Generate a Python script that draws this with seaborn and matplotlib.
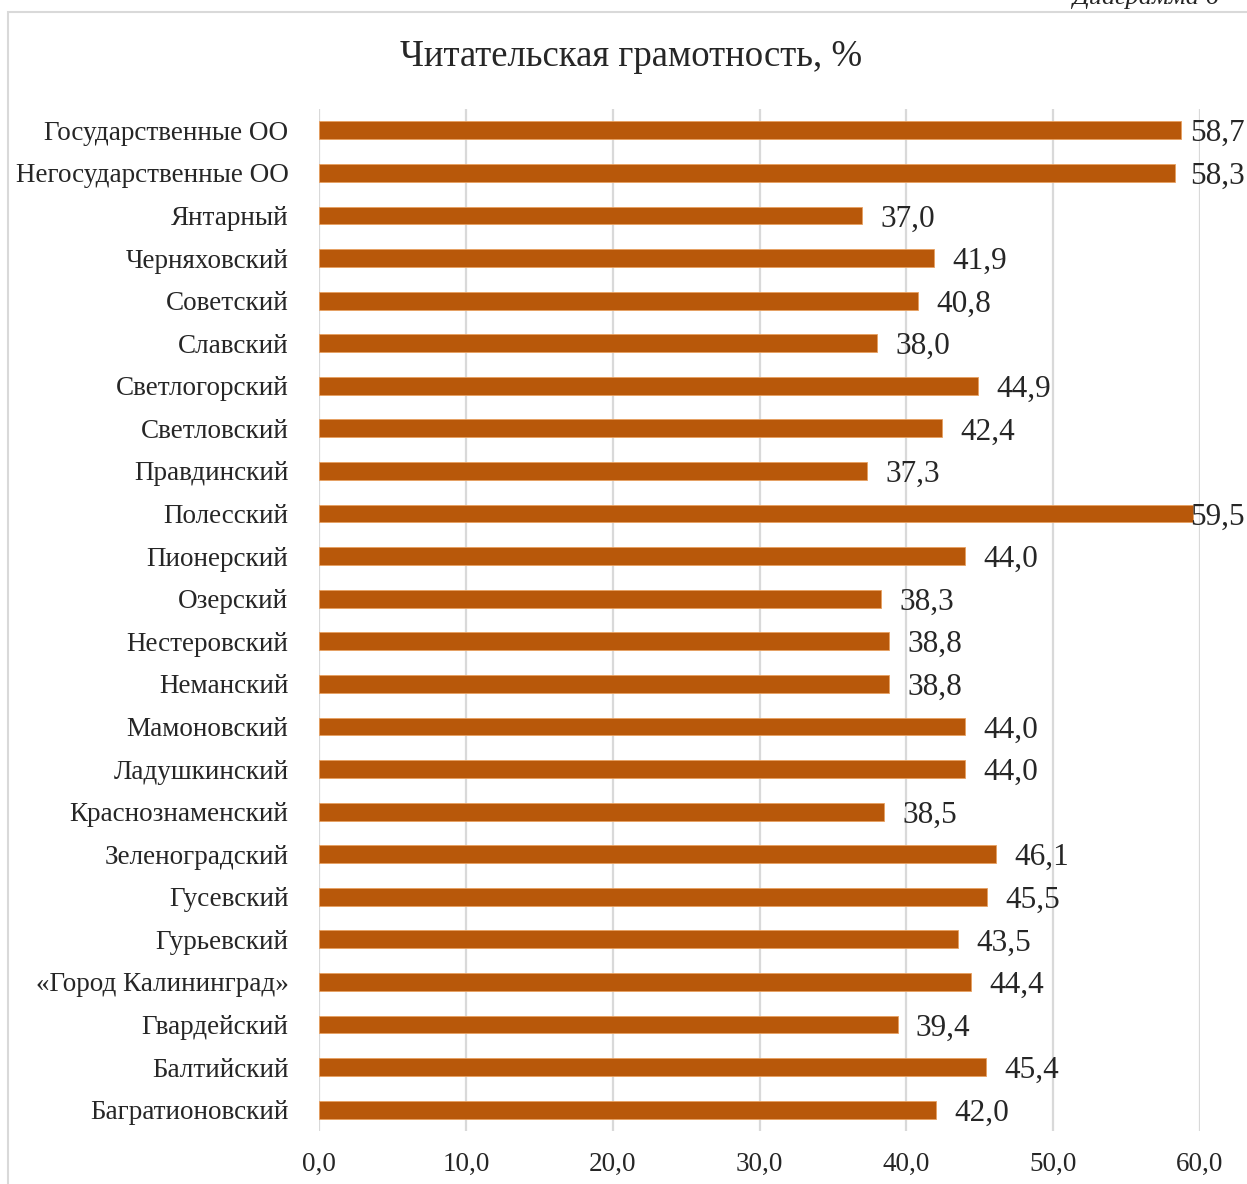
import matplotlib
matplotlib.use("Agg")
import matplotlib.pyplot as plt
import seaborn as sns
from matplotlib.patches import Rectangle

# данные: читательская грамотность по муниципалитетам, %
categories = [
    "Государственные ОО", "Негосударственные ОО", "Янтарный", "Черняховский",
    "Советский", "Славский", "Светлогорский", "Светловский", "Правдинский",
    "Полесский", "Пионерский", "Озерский", "Нестеровский", "Неманский",
    "Мамоновский", "Ладушкинский", "Краснознаменский", "Зеленоградский",
    "Гусевский", "Гурьевский", "«Город Калининград»", "Гвардейский",
    "Балтийский", "Багратионовский",
]
values = [58.7, 58.3, 37.0, 41.9, 40.8, 38.0, 44.9, 42.4, 37.3, 59.5, 44.0, 38.3,
          38.8, 38.8, 44.0, 44.0, 38.5, 46.1, 45.5, 43.5, 44.4, 39.4, 45.4, 42.0]
xticks = [0, 10, 20, 30, 40, 50, 60]

sns.set_style("white")
plt.rcParams["font.family"] = ["Liberation Serif", "DejaVu Serif"]

W, H = 1247, 1184
fig = plt.figure(figsize=(W / 100, H / 100), dpi=100)

# рамка диаграммы
fig.patches.append(Rectangle((8 / W, -0.1), 1.2, 1.1 - 12 / H, transform=fig.transFigure,
                             fill=False, edgecolor="#d9d9d9", linewidth=1.5))
fig.text(1072 / W, 1.0 + 2 / H, "Диаграмма 6", ha="left", va="center", fontsize=19, style="italic")

ax = fig.add_axes([319 / W, 53 / H, 881 / W, 1022 / H])
sns.barplot(x=values, y=categories, orient="h", width=0.42, color="#B8580A", saturation=1,
            edgecolor="#e8a060", linewidth=0.6, ax=ax)

ax.set_xlim(0, 60)
ax.set_ylim(len(categories) - 0.5, -0.5)
ax.set_xticks(xticks)
ax.set_xticklabels([f"{t:.1f}".replace(".", ",") for t in xticks])
ax.grid(axis="x", color="#d9d9d9", linewidth=1.6)
ax.set_axisbelow(True)
for s in ax.spines.values():
    s.set_visible(False)
ax.tick_params(axis="y", length=0, pad=22, labelsize=19.5)
ax.tick_params(axis="x", length=0, pad=15, labelsize=19.5)
ax.set_xlabel("")
ax.set_ylabel("")

for i, v in enumerate(values):
    ax.text(min(v + 1.25, 59.3), i, f"{v:.1f}".replace(".", ","), va="center_baseline",
            ha="left", fontsize=22.5, clip_on=False)

fig.text(631 / W, 1 - 57 / H, "Читательская грамотность, %", ha="center", va="center",
         fontsize=26.5)

fig.savefig("out.png", dpi=100)
